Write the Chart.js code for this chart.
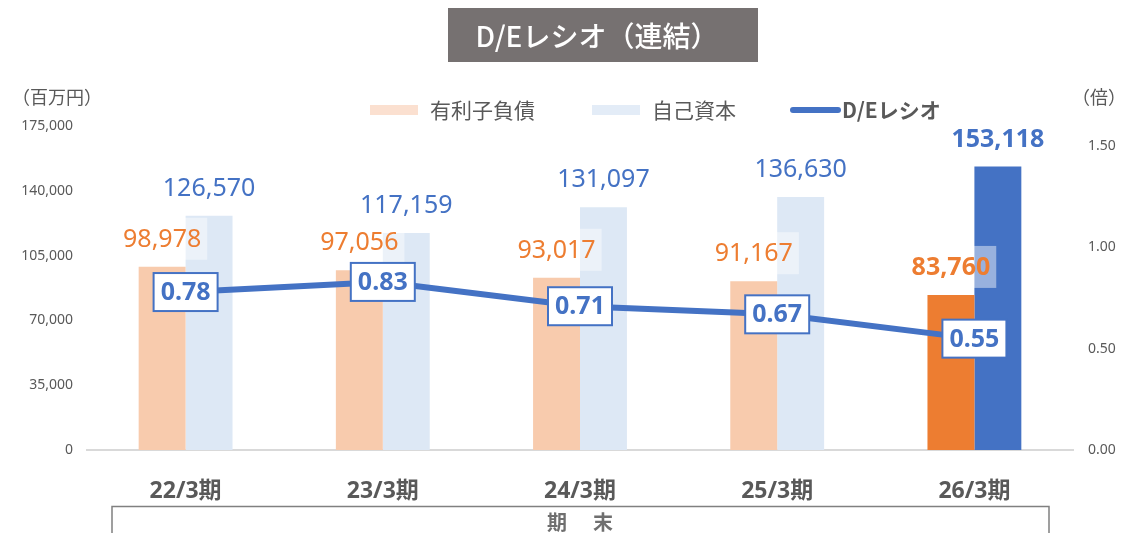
<!DOCTYPE html>
<html lang="ja">
<head>
<meta charset="utf-8">
<title>D/Eレシオ（連結）</title>
<script src="https://cdn.jsdelivr.net/npm/chart.js@4.4.1/dist/chart.umd.min.js"></script>
<style>
  html, body { margin: 0; padding: 0; background: #ffffff; }
  #wrap { width: 1145px; height: 533px; position: relative; }
</style>
</head>
<body>
<div id="wrap"><canvas id="mainChart" width="1145" height="533"></canvas></div>
<script>
const categories = ["22/3期", "23/3期", "24/3期", "25/3期", "26/3期"];
const debtValues = [98978, 97056, 93017, 91167, 83760];
const equityValues = [126570, 117159, 131097, 136630, 153118];
const deRatioValues = [0.78, 0.83, 0.71, 0.67, 0.55];
const leftTickValues = [0, 35000, 70000, 105000, 140000, 175000];
const rightTickValues = [0, 0.5, 1.0, 1.5];

const debtColors = ["#F8CBAD", "#F8CBAD", "#F8CBAD", "#F8CBAD", "#ED7D31"];
const equityColors = ["#DDE8F5", "#DDE8F5", "#DDE8F5", "#DDE8F5", "#4472C4"];

const NUM_FONT = "'Noto Sans', 'Noto Sans CJK JP', sans-serif";
const JP_FONT = "'Noto Sans CJK JP', 'Noto Sans', sans-serif";
const GRAY = "#595959";

function fmt(n) {
  return n.toLocaleString("en-US");
}

// title, units, legend, bracket
const decorPlugin = {
  id: "decor",
  afterDraw(chart) {
    const ctx = chart.ctx;
    ctx.save();

    // title box
    ctx.fillStyle = "#767171";
    ctx.fillRect(448, 8, 310, 54);
    ctx.fillStyle = "#ffffff";
    ctx.font = "500 28px " + JP_FONT;
    ctx.textAlign = "center";
    ctx.textBaseline = "middle";
    ctx.fillText("D/Eレシオ（連結）", 597, 36);

    // axis units
    ctx.fillStyle = GRAY;
    ctx.font = "18px " + JP_FONT;
    ctx.textAlign = "left";
    ctx.fillText("（百万円）", 12, 97);
    ctx.fillText("（倍）", 1072, 97);

    // legend
    const ly = 110;
    ctx.font = "21px " + JP_FONT;
    ctx.fillStyle = "#FBE0D0";
    ctx.fillRect(370, ly - 5, 48, 10);
    ctx.fillStyle = GRAY;
    ctx.fillText("有利子負債", 430, ly);
    ctx.fillStyle = "#E3ECF7";
    ctx.fillRect(592, ly - 5, 48, 10);
    ctx.fillStyle = GRAY;
    ctx.fillText("自己資本", 652, ly);
    ctx.strokeStyle = "#4472C4";
    ctx.lineWidth = 6;
    ctx.lineCap = "round";
    ctx.beginPath();
    ctx.moveTo(793, ly);
    ctx.lineTo(838, ly);
    ctx.stroke();
    ctx.font = "bold 21px " + JP_FONT;
    ctx.fillStyle = GRAY;
    ctx.fillText("D/Eレシオ", 842, ly);

    // bracket under the categories
    ctx.strokeStyle = "#808080";
    ctx.lineWidth = 1.5;
    ctx.lineCap = "butt";
    ctx.beginPath();
    ctx.moveTo(112, 533);
    ctx.lineTo(112, 506.5);
    ctx.lineTo(1049, 506.5);
    ctx.lineTo(1049, 533);
    ctx.stroke();
    ctx.font = "bold 20px " + JP_FONT;
    ctx.fillStyle = "#6f6f6f";
    ctx.textAlign = "center";
    ctx.fillText("期", 557, 522);
    ctx.fillText("末", 603, 522);

    ctx.restore();
  },
};

// value labels on the bars and the ratio boxes on the line
const labelPlugin = {
  id: "labels",
  afterDatasetsDraw(chart) {
    const ctx = chart.ctx;
    ctx.save();
    ctx.textAlign = "center";
    ctx.textBaseline = "middle";

    [0, 1].forEach((di) => {
      const meta = chart.getDatasetMeta(di);
      const values = chart.data.datasets[di].data;
      const color = di === 0 ? "#ED7D31" : "#4472C4";
      meta.data.forEach((bar, i) => {
        const last = i === values.length - 1;
        ctx.font = (last ? "bold " : "") + "25px " + NUM_FONT;
        const text = fmt(values[i]);
        const w = ctx.measureText(text).width;
        const cy = bar.y - 28;
        ctx.fillStyle = "rgba(255,255,255,0.45)";
        ctx.fillRect(bar.x - w / 2 - 6, cy - 21, w + 12, 42);
        ctx.fillStyle = color;
        ctx.fillText(text, bar.x, cy + 1);
      });
    });

    const lineMeta = chart.getDatasetMeta(2);
    lineMeta.data.forEach((pt, i) => {
      const text = deRatioValues[i].toFixed(2);
      ctx.font = "bold 25px " + NUM_FONT;
      const w = 64;
      const h = 38;
      ctx.fillStyle = "#ffffff";
      ctx.fillRect(pt.x - w / 2, pt.y - h / 2, w, h);
      ctx.strokeStyle = "#4472C4";
      ctx.lineWidth = 2;
      ctx.strokeRect(pt.x - w / 2, pt.y - h / 2, w, h);
      ctx.fillStyle = "#4472C4";
      ctx.fillText(text, pt.x, pt.y + 1);
    });

    ctx.restore();
  },
};

function initChart() {
  const ctx = document.getElementById("mainChart").getContext("2d");
  return new Chart(ctx, {
    type: "bar",
    data: {
      labels: categories,
      datasets: [
        {
          label: "有利子負債",
          data: debtValues,
          backgroundColor: debtColors,
          yAxisID: "y",
          order: 1,
          barPercentage: 1,
          categoryPercentage: 0.476,
        },
        {
          label: "自己資本",
          data: equityValues,
          backgroundColor: equityColors,
          yAxisID: "y",
          order: 1,
          barPercentage: 1,
          categoryPercentage: 0.476,
        },
        {
          label: "D/Eレシオ",
          type: "line",
          data: deRatioValues,
          borderColor: "#4472C4",
          backgroundColor: "#4472C4",
          borderWidth: 6,
          pointRadius: 0,
          tension: 0,
          yAxisID: "y1",
          order: 0,
        },
      ],
    },
    options: {
      responsive: false,
      animation: false,
      events: [],
      layout: { padding: { top: 126, left: 0, right: 0, bottom: 0 } },
      plugins: {
        legend: { display: false },
        title: { display: false },
        tooltip: { enabled: false },
      },
      scales: {
        x: {
          grid: { display: false, drawTicks: false },
          border: { display: true, color: "#D9D9D9", width: 2 },
          ticks: {
            color: GRAY,
            font: { family: NUM_FONT, size: 23, weight: "bold" },
            padding: 28,
          },
          afterFit(scale) {
            scale.height = 83;
          },
        },
        y: {
          position: "left",
          min: 0,
          max: 175000,
          grid: { display: false, drawTicks: false },
          border: { display: false },
          afterBuildTicks(scale) {
            scale.ticks = leftTickValues.map((v) => ({ value: v }));
          },
          ticks: {
            color: GRAY,
            font: { family: NUM_FONT, size: 14 },
            padding: 14,
            callback: (v) => fmt(v),
          },
          afterFit(scale) {
            scale.width = 87;
          },
        },
        y1: {
          position: "right",
          min: 0,
          max: 1.6,
          grid: { display: false, drawTicks: false },
          border: { display: false },
          afterBuildTicks(scale) {
            scale.ticks = rightTickValues.map((v) => ({ value: v }));
          },
          ticks: {
            color: GRAY,
            font: { family: NUM_FONT, size: 14 },
            padding: 15,
            callback: (v) => Number(v).toFixed(2),
          },
          afterFit(scale) {
            scale.width = 72;
          },
        },
      },
    },
    plugins: [decorPlugin, labelPlugin],
  });
}

document.addEventListener("DOMContentLoaded", () => {
  initChart();
});
</script>
</body>
</html>
